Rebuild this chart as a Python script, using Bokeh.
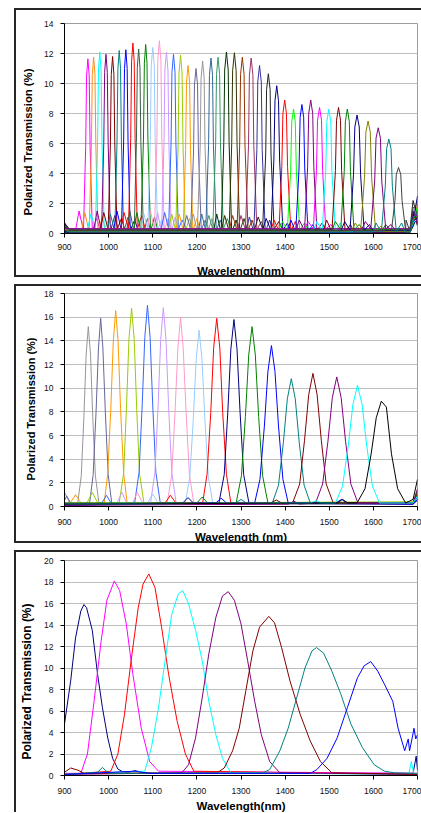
from bokeh.plotting import figure
from bokeh.layouts import column
from bokeh.models import ColumnDataSource, SingleIntervalTicker, Range1d, Title
from bokeh.embed import file_html
from bokeh.resources import INLINE

# ---------------- shared axis values ----------------
X_START = 900
X_END = 1700
X_TICK_STEP = 100
Y_TICK_STEP = 2
Y_LABEL = "Polarized Transmission (%)"

# ---------------- Panel 1 (40 narrow filters) ----------------
P1_YMAX = 14
P1_XLABEL = "Wavelength(nm)"
P1_CENTER = [953, 966, 980, 994, 1009, 1024, 1039, 1055, 1068, 1084,
             1100, 1115, 1131, 1147, 1163, 1180, 1198, 1213, 1232, 1248,
             1267, 1285, 1303, 1323, 1342, 1362, 1381, 1399, 1419, 1438,
             1458, 1478, 1499, 1521, 1541, 1563, 1588, 1611, 1635, 1657]
P1_PEAK = [11.65, 11.75, 12.1, 11.95, 11.8, 12.2, 12.25, 12.7, 12.3, 12.6,
           12.4, 12.85, 12.1, 11.95, 11.9, 11.2, 11.0, 11.5, 11.7, 11.75,
           12.1, 12.05, 11.75, 11.7, 11.2, 10.65, 9.85, 8.9, 8.3, 8.6,
           8.9, 8.4, 8.3, 8.4, 8.3, 7.9, 7.5, 7.05, 6.3, 4.4]
# wavelengths where each flank passes ~90 % of the peak
P1_SHOULDER_L = [950, 963, 977, 991, 1006, 1021, 1036, 1052, 1065, 1081,
                 1096.5, 1111.5, 1127.5, 1143.5, 1159.5, 1176.5, 1194.5, 1209.5, 1228.5, 1244.5,
                 1263, 1281, 1299, 1319, 1338, 1358, 1377, 1395, 1415, 1434,
                 1453.5, 1473.5, 1494.5, 1516.5, 1536.5, 1558, 1583, 1606, 1630, 1652]
P1_SHOULDER_R = [956, 969, 983, 997, 1012, 1027, 1042, 1058, 1071, 1087,
                 1103.5, 1118.5, 1134.5, 1150.5, 1166.5, 1183.5, 1201.5, 1216.5, 1235.5, 1251.5,
                 1271, 1289, 1307, 1327, 1346, 1366, 1385, 1403, 1423, 1442,
                 1462.5, 1482.5, 1503.5, 1525.5, 1545.5, 1568, 1593, 1616, 1640, 1662]
P1_SHOULDER_Y = [10.5, 10.6, 10.9, 10.75, 10.6, 11.0, 11.0, 11.45, 11.05, 11.35,
                 11.15, 11.55, 10.9, 10.75, 10.7, 10.1, 9.9, 10.35, 10.55, 10.6,
                 10.9, 10.85, 10.6, 10.55, 10.1, 9.6, 8.85, 8.0, 7.45, 7.75,
                 8.0, 7.55, 7.45, 7.55, 7.45, 7.1, 6.75, 6.35, 5.65, 3.95]
# wavelengths where each flank passes half of the peak
P1_HALF_L = [948, 961, 975, 989, 1004, 1019, 1034, 1050, 1063, 1079,
             1094.5, 1109.5, 1125.5, 1141.5, 1157.5, 1174.5, 1192.5, 1207.5, 1226.5, 1242.5,
             1261, 1279, 1297, 1317, 1336, 1356, 1374.5, 1392.5, 1412.5, 1431.5,
             1451, 1471, 1492, 1514, 1534, 1555, 1580, 1603, 1627, 1649]
P1_HALF_R = [958, 971, 985, 999, 1014, 1029, 1044, 1060, 1073, 1089,
             1105.5, 1120.5, 1136.5, 1152.5, 1168.5, 1185.5, 1203.5, 1218.5, 1237.5, 1253.5,
             1273, 1291, 1309, 1329, 1348, 1368, 1387.5, 1405.5, 1425.5, 1444.5,
             1465, 1485, 1506, 1528, 1548, 1571, 1596, 1619, 1643, 1665]
P1_HALF_Y = [5.8, 5.9, 6.05, 6.0, 5.9, 6.1, 6.1, 6.35, 6.15, 6.3,
             6.2, 6.4, 6.05, 6.0, 5.95, 5.6, 5.5, 5.75, 5.85, 5.9,
             6.05, 6.0, 5.9, 5.85, 5.6, 5.3, 4.9, 4.45, 4.15, 4.3,
             4.45, 4.2, 4.15, 4.2, 4.15, 3.95, 3.75, 3.5, 3.15, 2.2]
# wavelengths where each flank reaches the baseline
P1_FOOT_L = [943, 956, 970, 984, 999, 1014, 1029, 1045, 1058, 1073,
             1089, 1104, 1120, 1136, 1152, 1169, 1186, 1201, 1220, 1236,
             1255, 1273, 1291, 1310, 1329, 1349, 1368, 1386, 1405, 1424,
             1444, 1464, 1484, 1506, 1526, 1547, 1571, 1594, 1618, 1641]
P1_FOOT_R = [963, 976, 990, 1004, 1019, 1034, 1049, 1065, 1079, 1095,
             1111, 1126, 1142, 1158, 1174, 1191, 1210, 1225, 1244, 1260,
             1279, 1297, 1316, 1336, 1355, 1375, 1395, 1413, 1433, 1452,
             1472, 1492, 1514, 1536, 1556, 1579, 1605, 1628, 1652, 1673]
# small side lobes
P1_LOBE_L_X = [933, 946, 960, 974, 989, 1004, 1019, 1035, 1048, 1064,
               1080, 1095, 1111, 1127, 1143, 1160, 1177, 1192, 1211, 1227,
               1245, 1263, 1281, 1300, 1319, 1339, 1357, 1375, 1394, 1413,
               1432, 1452, 1472, 1494, 1514, 1535, 1559, 1582, 1606, 1628]
P1_LOBE_L_Y = [1.5, 1.4, 1.3, 1.5, 1.4, 1.3, 1.5, 1.4, 1.5, 1.4,
               1.3, 1.5, 1.4, 1.4, 1.3, 1.3, 1.2, 1.3, 1.3, 1.2,
               1.3, 1.2, 1.2, 1.2, 1.1, 1.1, 1.0, 0.9, 0.8, 0.9,
               0.9, 0.8, 0.8, 0.9, 0.8, 0.8, 0.7, 0.8, 0.7, 0.6]
P1_LOBE_R_X = [973, 986, 1000, 1014, 1029, 1044, 1059, 1075, 1088, 1104,
               1120, 1135, 1151, 1167, 1183, 1200, 1219, 1234, 1253, 1269,
               1289, 1307, 1325, 1346, 1365, 1386, 1405, 1423, 1444, 1463,
               1484, 1504, 1525, 1548, 1568, 1591, 1617, 1640, 1664, 1674]
P1_LOBE_R_Y = [1.0, 1.1, 0.9, 1.2, 1.0, 1.1, 0.9, 1.2, 1.0, 1.1,
               0.9, 1.0, 1.1, 0.9, 1.0, 1.0, 0.9, 1.0, 0.9, 1.0,
               0.9, 1.0, 0.9, 0.8, 0.9, 0.8, 0.7, 0.8, 0.7, 0.6,
               0.7, 0.6, 0.7, 0.6, 0.6, 0.6, 0.5, 0.6, 0.7, 0.9]
P1_BASE = [0.2, 0.1, 0.3, 0.15, 0.25, 0.1, 0.2, 0.3, 0.05, 0.15,
           0.25, 0.2, 0.1, 0.3, 0.15, 0.2, 0.25, 0.1, 0.2, 0.3,
           0.05, 0.15, 0.2, 0.25, 0.1, 0.3, 0.2, 0.15, 0.25, 0.1,
           0.2, 0.3, 0.15, 0.1, 0.25, 0.2, 0.15, 0.3, 0.1, 0.2]
P1_START = [0.6, 0.3, 0.5, 0.2, 0.7, 0.4, 0.1, 0.5, 0.3, 0.6,
            0.2, 0.4, 0.7, 0.1, 0.3, 0.5, 0.2, 0.6, 0.4, 0.3,
            0.1, 0.5, 0.2, 0.4, 0.6, 0.3, 0.7, 0.2, 0.5, 0.1,
            0.4, 0.3, 0.6, 0.2, 0.5, 0.1, 0.3, 0.4, 0.2, 0.6]
P1_END_A = [0.6, 1.2, 0.4, 0.9, 1.5, 0.5, 1.1, 0.8, 1.3, 0.7,
            1.6, 0.5, 0.9, 1.2, 0.6, 1.0, 1.4, 0.7, 0.8, 1.1,
            0.5, 0.9, 1.3, 0.6, 1.0, 2.2, 0.8, 1.2, 0.9, 0.6,
            1.4, 1.0, 0.7, 1.1, 0.8, 1.3, 0.9, 1.5, 1.0, 1.7]
P1_END_B = [1.1, 0.5, 1.6, 0.8, 0.6, 1.3, 0.9, 1.9, 0.7, 1.2,
            0.5, 1.4, 1.0, 0.6, 1.7, 0.8, 0.5, 1.1, 1.5, 0.7,
            1.2, 0.9, 0.6, 1.4, 0.8, 1.0, 2.5, 0.7, 1.8, 1.1,
            0.6, 1.3, 1.0, 0.8, 1.6, 0.9, 1.2, 0.7, 1.4, 2.0]
P1_COLORS = ["#FF00FF", "#FF8C1A", "#00FFFF", "#800080", "#800000", "#008080", "#0000FF", "#FF0000", "#3B5E45", "#008000",
             "#99CCFF", "#FF99CC", "#CC99FF", "#3366FF", "#99CC00", "#FF9900", "#666699", "#969696", "#336699", "#339966",
             "#003300", "#333300", "#993300", "#993366", "#333399", "#222222", "#000080", "#FF0000", "#00FF00", "#0000FF",
             "#800080", "#FF00FF", "#00FFFF", "#800000", "#008000", "#000080", "#808000", "#800080", "#008080", "#404040"]

# ---------------- Panel 2 (17 filters) ----------------
P2_YMAX = 18
P2_XLABEL = "Wavelength (nm)"
P2_NM = [
    [900, 912, 930, 938, 944, 949, 954, 959, 964, 970, 978, 1000, 1690, 1700],
    [900, 905, 915, 957, 965, 971.5, 977, 982, 987, 992.5, 999, 1007, 1690, 1700],
    [900, 913, 925, 937, 990, 998, 1005, 1010.5, 1016, 1021.5, 1027, 1034, 1042, 1690, 1700],
    [900, 951, 963, 975, 1024, 1034, 1040.5, 1046, 1052, 1058, 1063.5, 1070, 1080, 1690, 1700],
    [900, 983, 995, 1007, 1059, 1069, 1076, 1082, 1088, 1094, 1100, 1107, 1117, 1690, 1700],
    [900, 1018, 1030, 1042, 1095, 1105, 1112, 1118, 1124, 1130, 1136, 1143, 1153, 1690, 1700],
    [900, 1053, 1065, 1077, 1133, 1143, 1150.5, 1157, 1163, 1169, 1175.5, 1183, 1193, 1690, 1700],
    [900, 1088, 1100, 1112, 1174, 1184, 1192, 1198.5, 1205, 1211.5, 1218, 1226, 1236, 1690, 1700],
    [900, 1128, 1140, 1152, 1213, 1223, 1231.5, 1238, 1245, 1252, 1258.5, 1267, 1277, 1690, 1700],
    [900, 1168, 1180, 1192, 1250, 1262, 1270, 1277, 1284, 1291, 1298, 1306, 1318, 1690, 1700],
    [900, 1200, 1212, 1224, 1289, 1301, 1310, 1317.5, 1325, 1332.5, 1340, 1349, 1361, 1690, 1700],
    [900, 1243, 1255, 1267, 1331, 1343, 1353, 1361, 1369, 1377, 1385, 1395, 1407, 1515, 1528, 1540, 1690, 1700],
    [900, 1288, 1300, 1312, 1371, 1385, 1396, 1405, 1414, 1423, 1432, 1443, 1457, 1690, 1700],
    [900, 1368, 1380, 1392, 1417, 1433, 1444, 1453.5, 1463, 1472.5, 1482, 1493, 1509, 1690, 1700],
    [900, 1408, 1420, 1432, 1469, 1485, 1497, 1507, 1517, 1527, 1537, 1549, 1565, 1690, 1700],
    [900, 1458, 1470, 1482, 1514, 1530, 1543, 1553.5, 1564, 1574.5, 1585, 1598, 1614, 1690, 1700],
    [900, 1518, 1530, 1542, 1563, 1581, 1595, 1606.5, 1618, 1629.5, 1641, 1655, 1673, 1690, 1700],
]
P2_PCT = [
    [1.2, 0.3, 0.3, 2.6, 7.6, 12.8, 15.2, 12.8, 7.6, 2.6, 0.3, 0.2, 0.2, 0.9],
    [0.5, 0.9, 0.2, 0.3, 2.7, 8.0, 13.4, 15.9, 13.4, 8.0, 2.7, 0.3, 0.2, 0.5],
    [0.2, 0.3, 1.0, 0.3, 0.3, 2.8, 8.3, 13.9, 16.55, 13.9, 8.3, 2.8, 0.3, 0.3, 1.2],
    [0.3, 0.3, 1.2, 0.3, 0.3, 2.8, 8.4, 14.1, 16.75, 14.1, 8.4, 2.8, 0.3, 0.4, 1.4],
    [0.1, 0.2, 0.95, 0.2, 0.3, 2.9, 8.5, 14.3, 17.0, 14.3, 8.5, 2.9, 0.3, 0.2, 0.6],
    [0.2, 0.2, 1.2, 0.2, 0.3, 2.9, 8.4, 14.1, 16.8, 14.1, 8.4, 2.9, 0.3, 0.3, 0.8],
    [0.3, 0.2, 1.2, 0.3, 0.3, 2.7, 8.0, 13.4, 16.0, 13.4, 8.0, 2.7, 0.3, 0.2, 1.0],
    [0.2, 0.3, 1.05, 0.3, 0.3, 2.5, 7.45, 12.5, 14.9, 12.5, 7.45, 2.5, 0.3, 0.3, 0.7],
    [0.1, 0.3, 0.95, 0.3, 0.3, 2.7, 7.95, 13.4, 15.9, 13.4, 7.95, 2.7, 0.3, 0.3, 1.1],
    [0.2, 0.3, 0.75, 0.3, 0.3, 2.7, 7.9, 13.3, 15.8, 13.3, 7.9, 2.7, 0.3, 0.2, 0.9],
    [0.3, 0.3, 0.8, 0.3, 0.3, 2.6, 7.6, 12.8, 15.2, 12.8, 7.6, 2.6, 0.3, 0.3, 1.3],
    [0.1, 0.3, 0.7, 0.3, 0.3, 2.3, 6.8, 11.4, 13.6, 11.4, 6.8, 2.3, 0.3, 0.3, 0.6, 0.3, 0.2, 0.6],
    [0.2, 0.3, 0.6, 0.3, 0.3, 1.8, 5.4, 9.1, 10.8, 9.1, 5.4, 1.8, 0.3, 0.3, 0.8],
    [0.2, 0.3, 0.55, 0.3, 0.3, 1.9, 5.6, 9.45, 11.25, 9.45, 5.6, 1.9, 0.3, 0.3, 1.0],
    [0.1, 0.2, 0.45, 0.2, 0.3, 1.9, 5.5, 9.2, 10.95, 9.2, 5.5, 1.9, 0.3, 0.3, 1.5],
    [0.2, 0.3, 0.5, 0.3, 0.3, 1.7, 5.1, 8.6, 10.25, 8.6, 5.1, 1.7, 0.3, 0.3, 0.9],
    [0.2, 0.3, 0.6, 0.3, 0.3, 1.5, 4.45, 7.5, 8.9, 8.4, 4.45, 1.5, 0.3, 0.6, 2.3],
]
P2_COLORS = ["#969696", "#666699", "#FF9900", "#99CC00", "#3366FF", "#CC99FF", "#FF99CC", "#99CCFF", "#FF0000",
             "#000080", "#008000", "#0000FF", "#008080", "#800000", "#800080", "#00FFFF", "#000000"]

# ---------------- Panel 3 (8 wide filters) ----------------
P3_YMAX = 20
P3_XLABEL = "Wavelength(nm)"
P3_NM = [
    [900, 914, 925, 937, 944, 950, 963, 975, 986, 998, 1009, 1021, 1032, 1045, 1060, 1075, 1100, 1690, 1697, 1700],
    [900, 937, 952, 967, 983, 996, 1013, 1025, 1040, 1055, 1074, 1093, 1113, 1700],
    [900, 1005, 1021, 1036, 1051, 1067, 1078, 1091, 1105, 1120, 1136, 1155, 1174, 1193, 1700],
    [900, 1082, 1097, 1113, 1128, 1143, 1158, 1168, 1181, 1197, 1212, 1227, 1243, 1258, 1277, 1680, 1686, 1692, 1700],
    [900, 1166, 1181, 1197, 1212, 1227, 1243, 1258, 1271, 1285, 1300, 1315, 1331, 1346, 1365, 1388, 1700],
    [900, 914, 930, 945, 1246, 1262, 1281, 1296, 1311, 1327, 1342, 1363, 1376, 1392, 1411, 1434, 1457, 1480, 1506, 1700],
    [900, 975, 986, 1000, 1350, 1365, 1388, 1407, 1426, 1445, 1461, 1471, 1487, 1506, 1526, 1549, 1575, 1602, 1625, 1648, 1700],
    [900, 1060, 1075, 1090, 1457, 1472, 1495, 1518, 1541, 1564, 1579, 1594, 1610, 1625, 1644, 1656, 1671, 1679, 1682, 1688, 1692, 1696, 1700],
]
P3_PCT = [
    [4.8, 8.8, 12.8, 15.3, 15.9, 15.6, 13.5, 9.4, 6.3, 3.5, 1.6, 0.6, 0.35, 0.3, 0.45, 0.3, 0.2, 0.2, 1.8, 0.5],
    [0.2, 0.2, 2.0, 6.9, 12.5, 16.3, 18.1, 17.2, 14.1, 9.4, 4.4, 1.3, 0.4, 0.2],
    [0.1, 0.4, 2.0, 5.7, 10.7, 15.6, 17.8, 18.75, 17.5, 13.8, 9.4, 5.1, 2.0, 0.4, 0.1],
    [0.1, 0.4, 2.6, 6.3, 10.7, 15.0, 16.9, 17.2, 16.0, 13.5, 10.7, 6.9, 3.8, 1.6, 0.25, 0.1, 1.3, 0.1, 0.2],
    [0.1, 0.25, 1.0, 3.5, 7.2, 11.3, 14.7, 16.7, 17.1, 16.3, 14.1, 10.7, 6.9, 3.8, 1.3, 0.25, 0.1],
    [0.3, 0.7, 0.5, 0.2, 0.25, 0.7, 2.3, 4.4, 7.9, 11.6, 13.8, 14.8, 14.2, 11.9, 8.8, 5.7, 3.2, 1.3, 0.25, 0.1],
    [0.1, 0.3, 0.75, 0.2, 0.25, 0.55, 2.3, 4.4, 7.2, 10.0, 11.6, 11.9, 11.4, 9.7, 7.6, 4.8, 2.6, 1.0, 0.4, 0.25, 0.2],
    [0.1, 0.4, 0.3, 0.2, 0.2, 0.55, 1.6, 3.5, 6.3, 9.1, 10.2, 10.6, 9.7, 8.5, 6.9, 4.4, 2.3, 3.4, 2.3, 3.5, 4.4, 3.4, 3.8],
]
P3_COLORS = ["#000080", "#FF00FF", "#FF0000", "#00FFFF", "#800080", "#800000", "#008080", "#0000FF"]

# ---------------- assemble panel-1 knots from the read values ----------------
p1_xs, p1_ys = [], []
for i in range(len(P1_CENTER)):
    p1_xs.append([X_START, 912, P1_LOBE_L_X[i] - 8, P1_LOBE_L_X[i], P1_FOOT_L[i],
                  P1_HALF_L[i], P1_SHOULDER_L[i], P1_CENTER[i], P1_SHOULDER_R[i], P1_HALF_R[i],
                  P1_FOOT_R[i], P1_LOBE_R_X[i], P1_LOBE_R_X[i] + 8, 1683, 1690, X_END])
    p1_ys.append([P1_START[i], P1_BASE[i], P1_BASE[i], P1_LOBE_L_Y[i], P1_BASE[i],
                  P1_HALF_Y[i], P1_SHOULDER_Y[i], P1_PEAK[i], P1_SHOULDER_Y[i], P1_HALF_Y[i],
                  P1_BASE[i], P1_LOBE_R_Y[i], P1_BASE[i], P1_BASE[i], P1_END_A[i], P1_END_B[i]])

FONT = "Liberation Sans"


def y_title(size, pad, offset):
    common = dict(text=Y_LABEL, align="left", offset=offset, standoff=0,
                  text_font=FONT, text_font_style="bold",
                  text_font_size=size, text_color="#000000")
    try:
        return Title(padding=dict(left=0, right=0, top=0, bottom=pad), **common)
    except Exception:
        return Title(**common)


def make_panel(xs, ys, colors, ymax, xlabel, height, b_left, b_right, b_top, b_bottom,
               ylab_size, xlab_size, ylab_pad, ylab_offset, xlab_standoff, x_tick_standoff,
               margin, styles):
    p = figure(width=407, height=height,
               x_range=Range1d(X_START, X_END), y_range=Range1d(0, ymax),
               output_backend="svg", toolbar_location=None,
               min_border_left=b_left, min_border_right=b_right,
               min_border_top=b_top, min_border_bottom=b_bottom)
    p.multi_line(xs="xs", ys="ys", line_color="color", line_width=1,
                 source=ColumnDataSource(dict(xs=xs, ys=ys, color=colors)))
    p.background_fill_color = "white"
    p.border_fill_color = "white"
    p.outline_line_color = "#9C9C9C"
    p.outline_line_width = 1
    p.xgrid.visible = False
    p.ygrid.grid_line_color = "#BDBDBD"
    p.ygrid.grid_line_width = 1

    p.xaxis.ticker = SingleIntervalTicker(interval=X_TICK_STEP, num_minor_ticks=0)
    p.yaxis.ticker = SingleIntervalTicker(interval=Y_TICK_STEP, num_minor_ticks=0)
    for ax in (p.xaxis[0], p.yaxis[0]):
        ax.axis_line_color = "#000000"
        ax.major_tick_line_color = "#000000"
        ax.major_tick_in = 0
        ax.major_tick_out = 4
        ax.minor_tick_line_color = None
        ax.major_label_text_font = FONT
        ax.major_label_text_font_size = "8.5px"
        ax.major_label_text_color = "#111111"
        ax.axis_label_text_font = FONT
        ax.axis_label_text_font_style = "bold"
        ax.axis_label_text_color = "#000000"
    p.xaxis.axis_label = xlabel
    p.xaxis.axis_label_text_font_size = xlab_size
    p.xaxis.axis_label_standoff = xlab_standoff
    p.xaxis.major_label_standoff = x_tick_standoff
    p.yaxis.major_label_standoff = 7

    # vertical axis title on the left side
    p.add_layout(y_title(ylab_size, ylab_pad, ylab_offset), "left")
    p.styles = styles
    p.margin = margin
    return p


BOX = {"border": "2px solid #262626", "border-right": "none"}
BOX_LAST = {"border": "2px solid #262626", "border-right": "none", "border-bottom": "none"}

p1 = make_panel(p1_xs, p1_ys, P1_COLORS, P1_YMAX, P1_XLABEL, 269, 43, 4, 13, 45,
                "11.3px", "11.3px", 8, 18, 12, 6, (8, 0, 0, 14), BOX)
p2 = make_panel(P2_NM, P2_PCT, P2_COLORS, P2_YMAX, P2_XLABEL, 259, 47, 6, 7, 38,
                "11px", "11.5px", 5, 26, 3, 8, (0, 0, 0, 14), BOX)
p3 = make_panel(P3_NM, P3_PCT, P3_COLORS, P3_YMAX, P3_XLABEL, 262, 48, 5, 8, 38,
                "12px", "11.5px", 8, 16, 3, 8, (0, 0, 0, 14), BOX_LAST)

layout = column(p1, p2, p3, spacing=7)

html = file_html(layout, INLINE, title="Polarized Transmission")
html = html.replace("<body>", '<body style="background-color:#ECEEDF;">', 1)
open("out.html", "w").write(html)
